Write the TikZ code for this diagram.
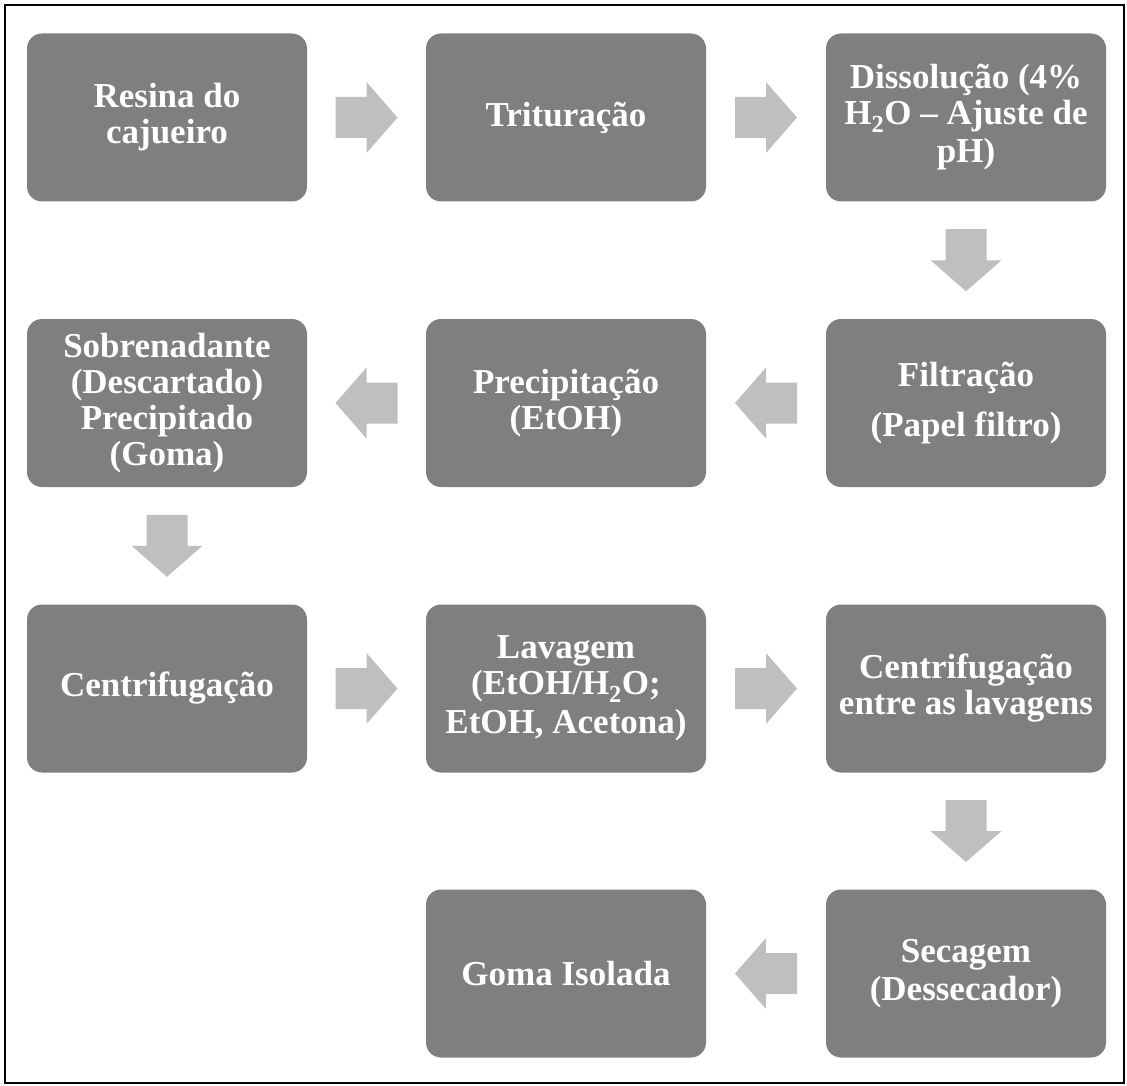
\documentclass[tikz,border=0pt]{standalone}
\usepackage{fontspec}
\setmainfont{Liberation Serif}
\usetikzlibrary{calc}
\definecolor{boxgray}{RGB}{127,127,127}
\definecolor{arrowgray}{RGB}{191,191,191}
\newcommand\blockarrow[3]{%
  \fill[arrowgray, shift={($(#1)!0.5!(#2)$)}, rotate=#3]
    (-31,-20.5) -- (0,-20.5) -- (0,-35.5) -- (31,0) -- (0,35.5) -- (0,20.5) -- (-31,20.5) -- cycle;}
\begin{document}
\begin{tikzpicture}[x=1pt,y=1pt,
  stepbox/.style={fill=boxgray, rounded corners=15pt, minimum width=280pt, minimum height=168pt,
    inner sep=0pt, text=white, align=center,
    font=\bfseries\fontsize{35}{36}\selectfont}]
\useasboundingbox (0,0) rectangle (1127,-1086);
\draw[line width=2pt] (5,-5) rectangle (1124,-1083);
% row 1
\node[stepbox] (n1) at (167,-117.5) {Resina do\\cajueiro};
\node[stepbox] (n2) at (566,-117.5) {Trituração};
\node[stepbox] (n3) at (966,-117.5) {Dissolução (4\%\\H\textsubscript{2}O -- Ajuste de\\[2pt]pH)};
% row 2
\node[stepbox] (n4) at (966,-403) {Filtração\\[14pt](Papel filtro)};
\node[stepbox] (n5) at (566,-403) {Precipitação\\(EtOH)};
\node[stepbox] (n6) at (167,-403) {Sobrenadante\\(Descartado)\\Precipitado\\(Goma)};
% row 3
\node[stepbox] (n7) at (167,-688.5) {Centrifugação};
\node[stepbox] (n8) at (566,-688.5) {Lavagem\\(EtOH/H\textsubscript{2}O;\\[3pt]EtOH, Acetona)};
\node[stepbox] (n9) at (966,-688.5) {Centrifugação\\entre as lavagens};
% row 4
\node[stepbox] (n10) at (966,-973.5) {Secagem\\[2pt](Dessecador)};
\node[stepbox] (n11) at (566,-973.5) {Goma Isolada};
% arrows
\blockarrow{n1.east}{n2.west}{0}
\blockarrow{n2.east}{n3.west}{0}
\blockarrow{n3.south}{n4.north}{-90}
\blockarrow{n4.west}{n5.east}{180}
\blockarrow{n5.west}{n6.east}{180}
\blockarrow{n6.south}{n7.north}{-90}
\blockarrow{n7.east}{n8.west}{0}
\blockarrow{n8.east}{n9.west}{0}
\blockarrow{n9.south}{n10.north}{-90}
\blockarrow{n10.west}{n11.east}{180}
\end{tikzpicture}
\end{document}
